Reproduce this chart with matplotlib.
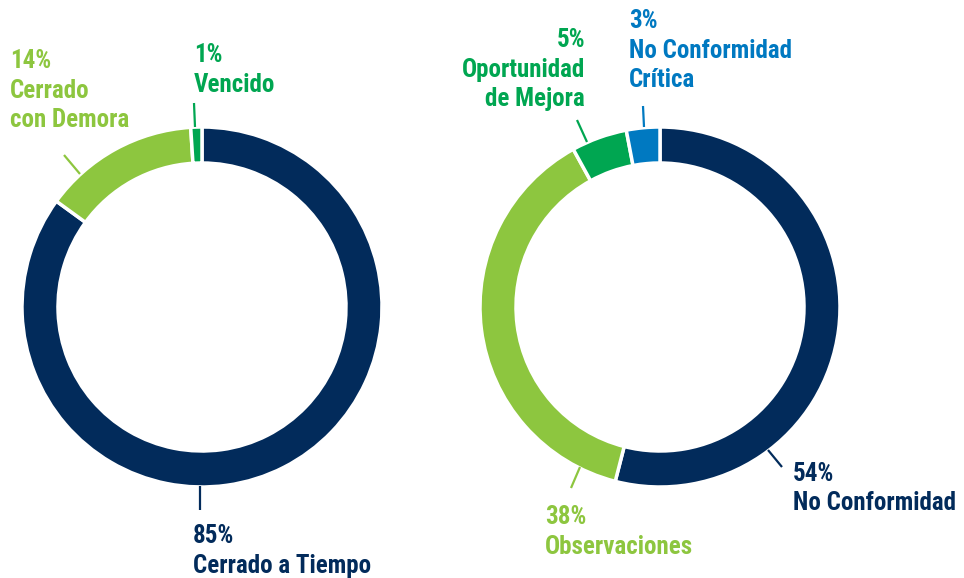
import matplotlib
matplotlib.use("Agg")
import matplotlib.pyplot as plt

# --- data ---
left_labels = ["Cerrado a Tiempo", "Cerrado\ncon Demora", "Vencido"]
left_values = [85, 14, 1]
right_labels = ["No Conformidad", "Observaciones", "Oportunidad\nde Mejora", "No Conformidad\nCrítica"]
right_values = [54, 38, 5, 3]

NAVY = "#022b5b"
LIGHT_GREEN = "#8dc63f"
GREEN = "#00a651"
BLUE = "#0079c1"
left_colors = [NAVY, LIGHT_GREEN, GREEN]
right_colors = [NAVY, LIGHT_GREEN, GREEN, BLUE]

FONT = ["Roboto Condensed", "DejaVu Sans"]
W, H = 964, 578

fig = plt.figure(figsize=(W / 100, H / 100), dpi=100)
ax = fig.add_axes([0, 0, 1, 1])


def Y(y):
    return H - y


R, RING = 180, 36
for vals, cols, cx in [(left_values, left_colors, 202), (right_values, right_colors, 660)]:
    ax.pie(vals, colors=cols, startangle=90, counterclock=False,
           center=(cx, Y(307)), radius=R,
           wedgeprops=dict(width=RING, edgecolor="white", linewidth=2.5))

ax.set_xlim(0, W)
ax.set_ylim(0, H)
ax.set_aspect("equal")
ax.axis("off")

# leader lines (pixel endpoints)
leaders = [
    ((64, 155), (80, 174), LIGHT_GREEN),
    ((194, 103), (195, 127), GREEN),
    ((200, 486), (200, 510), NAVY),
    ((577, 120), (587, 142), GREEN),
    ((643, 106), (644, 127), BLUE),
    ((768, 450), (782, 467), NAVY),
    ((580, 467), (571, 488), LIGHT_GREEN),
]
for (x0, y0), (x1, y1), c in leaders:
    ax.plot([x0, x1], [Y(y0), Y(y1)], color=c, lw=1.6, solid_capstyle="butt")


def label(x, first_baseline, pct, name, color, ha="left", pitch=29.5):
    lines = [f"{pct}%"] + name.split("\n")
    for i, t in enumerate(lines):
        ax.text(x, Y(first_baseline + i * pitch), t, ha=ha, va="baseline",
                color=color, fontsize=18, fontweight="bold", family=FONT)


label(10, 68, left_values[1], left_labels[1], LIGHT_GREEN)
label(194, 62, left_values[2], left_labels[2], GREEN)
label(193, 543, left_values[0], left_labels[0], NAVY)
label(585, 47, right_values[2], right_labels[2], GREEN, ha="right")
label(629, 28, right_values[3], right_labels[3], BLUE)
label(793, 481, right_values[0], right_labels[0], NAVY)
label(545, 524, right_values[1], right_labels[1], LIGHT_GREEN)

fig.savefig("out.png", dpi=100, facecolor="white")
